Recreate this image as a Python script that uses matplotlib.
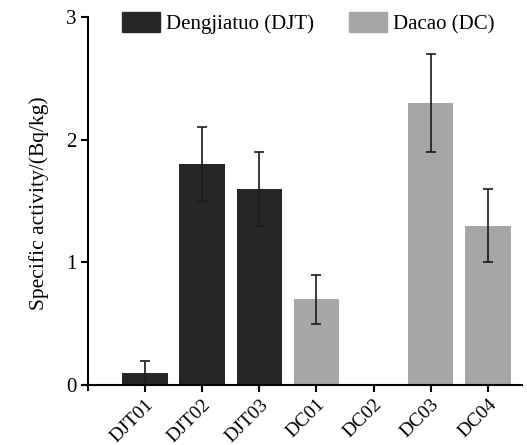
import numpy as np
from matplotlib import pyplot as plt
from matplotlib.patches import Patch

plt.rcParams.update({"font.family": "Liberation Serif",
                     "font.size": 14})

sites = ["DJT01", "DJT02", "DJT03", "DC01", "DC02", "DC03", "DC04"]
activity = [0.1, 1.8, 1.6, 0.7, 0.0, 2.3, 1.3]
errors = [0.1, 0.3, 0.3, 0.2, 0.0, 0.4, 0.3]
groups = ["DJT", "DJT", "DJT", "DC", "DC", "DC", "DC"]
colors = {"DJT": "#262626", "DC": "#a6a6a6"}

fig = plt.figure(figsize=[5.27, 4.45], dpi=100)
ax = fig.add_axes([83/527, 1 - 390/445, (522-83)/527, (390-17)/445])

x = np.arange(len(sites))
err = [e if e > 0 else np.nan for e in errors]
ax.bar(x, activity, width=0.8, color=[colors[g] for g in groups])
ax.errorbar(x, activity, yerr=err, fmt="none", ecolor="#1a1a1a",
            elinewidth=1.2, capsize=3.5, capthick=1.2)

ax.set_xlim(-1.09, 6.6)
ax.set_ylim(-0.04, 3)
ax.spines["top"].set_visible(False)
ax.spines["right"].set_visible(False)
ax.spines["left"].set_position(("data", -1.0))
ax.spines["bottom"].set_position(("data", 0))
for s in ["left", "bottom"]:
    ax.spines[s].set_linewidth(1.5)
ax.set_yticks([0, 1, 2, 3])
ax.set_xticks(x)
ax.set_xticklabels(sites, rotation=45, ha="right", rotation_mode="anchor",
                   fontsize=14)
ax.tick_params(width=1.5, length=5)
ax.tick_params(axis="y", labelsize=15)
ax.tick_params(axis="x", pad=3)
ax.set_ylabel("Specific activity/(Bq/kg)", fontsize=15.5, labelpad=12)

handles = [Patch(color=colors["DJT"], label="Dengjiatuo (DJT)"),
           Patch(color=colors["DC"], label="Dacao (DC)")]
ax.legend(handles=handles, loc="upper left", bbox_to_anchor=(0.07, 1.035),
          ncol=2, frameon=False, handlelength=1.8, handleheight=1.1,
          handletextpad=0.3, columnspacing=1.7, fontsize=15,
          borderaxespad=0)

plt.savefig("out.png", dpi=100)
